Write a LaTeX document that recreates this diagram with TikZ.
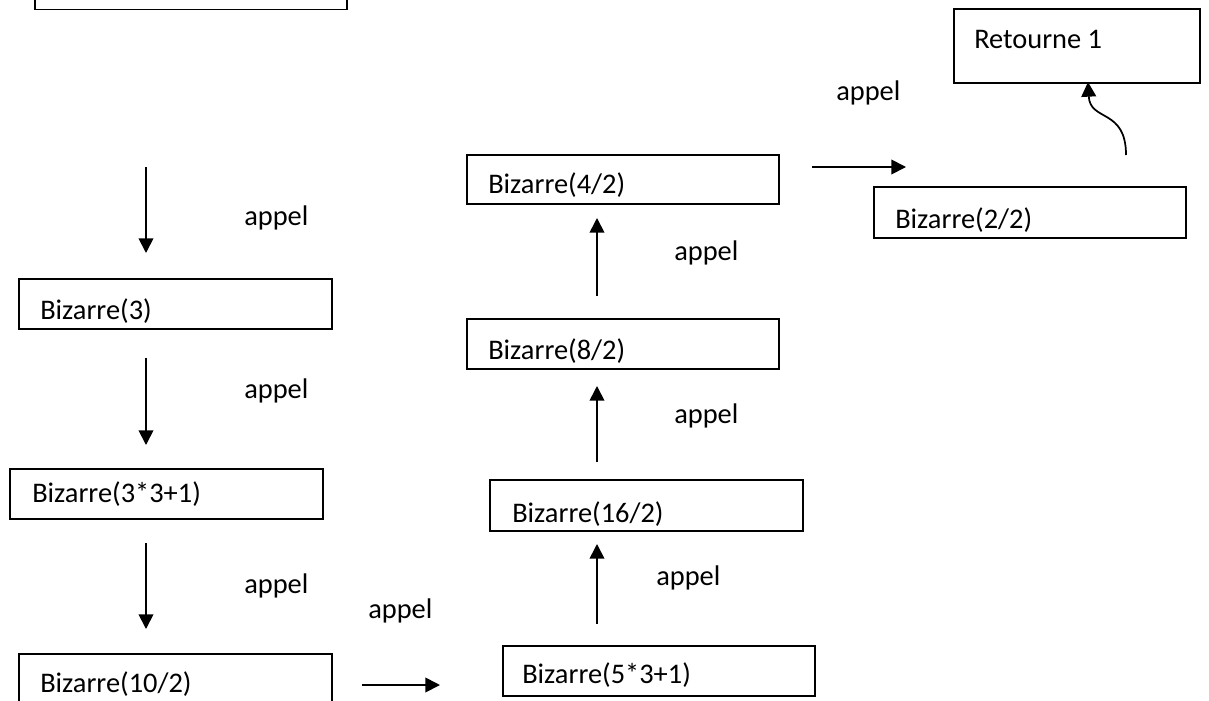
\documentclass[tikz,border=0pt]{standalone}
\usepackage{fontspec}
\setmainfont{Carlito}
\usetikzlibrary{arrows.meta}
\tikzset{
x=0.75pt, y=-0.75pt, % one unit is one pixel of the page
box/.style={draw, line width=1.2pt, anchor=north west, inner sep=0pt, minimum width=234pt, minimum height=37.5pt},
txt/.style={anchor=base west, inner sep=0pt, font=\fontsize{21.3}{25}\selectfont},
call/.style={-{Triangle[length=11pt,width=11pt]}, line width=1.3pt},
}

\begin{document}
\begin{tikzpicture}
\useasboundingbox (0,0) rectangle (1209,700);
\clip (0,0) rectangle (1209,700);
% boxes
\node[box, minimum height=44pt] at (34,-50) (B0) {};
\node[box, minimum width=234.75pt] at (18,278) (B3) {};
\node[box, minimum width=234.75pt] at (9,468) (B10) {};
\node[box, minimum width=234.75pt, minimum height=45pt] at (18,653) (B5) {};
\node[box] at (502,645) (B16a) {};
\node[box, minimum width=234.75pt, minimum height=38.25pt] at (489,479) (B16) {};
\node[box] at (466,318) (B8) {};
\node[box, minimum height=36.75pt] at (466,154) (B4) {};
\node[box, minimum height=38.25pt] at (873,186) (B2) {};
\node[box, minimum width=184.5pt, minimum height=55.5pt] at (953,8) (R1) {};
% texts
\node[txt] at (40,319) (T3) {Bizarre(3)};
\node[txt] at (32,502) (T10) {Bizarre(3*3+1)};
\node[txt] at (40,692) (T5) {Bizarre(10/2)};
\node[txt] at (522,683) (T16a) {Bizarre(5*3+1)};
\node[txt] at (512,522) (T16) {Bizarre(16/2)};
\node[txt] at (488,359) (T8) {Bizarre(8/2)};
\node[txt] at (488,193) (T4) {Bizarre(4/2)};
\node[txt] at (895,228) (T2) {Bizarre(2/2)};
\node[txt] at (974,48) (TR) {Retourne 1};
% appel labels
\node[txt] at (244,225) (A1) {appel};
\node[txt] at (244,398) (A2) {appel};
\node[txt] at (244,593) (A3) {appel};
\node[txt] at (368,618) (A4) {appel};
\node[txt] at (656,585) (A5) {appel};
\node[txt] at (674,423) (A6) {appel};
\node[txt] at (674,260) (A7) {appel};
\node[txt] at (836,100) (A8) {appel};
% arrow ends
\coordinate (s1) at (146,167); \coordinate (e1) at (146,253);
\coordinate (s2) at (146,358); \coordinate (e2) at (146,445);
\coordinate (s3) at (146,543); \coordinate (e3) at (146,629);
\coordinate (s4) at (362,685); \coordinate (e4) at (440,685);
\coordinate (s5) at (597,624); \coordinate (e5) at (597,544);
\coordinate (s6) at (597,462); \coordinate (e6) at (597,386);
\coordinate (s7) at (597,296); \coordinate (e7) at (597,218);
\coordinate (s8) at (812,167); \coordinate (e8) at (906,167);
\coordinate (s9) at (1126,155); \coordinate (e9) at (1088,82);
\draw[call] (s1) -- (e1);
\draw[call] (s2) -- (e2);
\draw[call] (s3) -- (e3);
\draw[call] (s4) -- (e4);
\draw[call] (s5) -- (e5);
\draw[call] (s6) -- (e6);
\draw[call] (s7) -- (e7);
\draw[call] (s8) -- (e8);
\draw[call] (s9) .. controls (1126,108) and (1090,122) .. (e9);
\end{tikzpicture}
\end{document}
